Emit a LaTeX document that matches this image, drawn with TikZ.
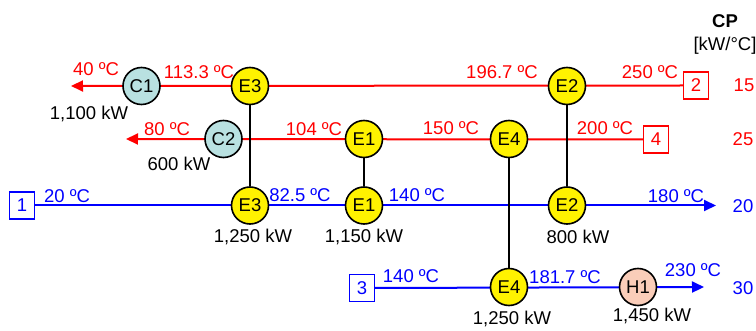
\documentclass[tikz,border=0pt]{standalone}
\usepackage{fontspec}
\setmainfont{Liberation Sans}
\usetikzlibrary{arrows.meta,backgrounds}
\definecolor{coolfill}{RGB}{185,225,225}
\definecolor{heatfill}{RGB}{250,205,185}
\tikzset{
  exch/.style={circle,draw=black,line width=1.6pt,fill=yellow,minimum size=37pt,inner sep=0pt},
  cooler/.style={exch,fill=coolfill},
  heater/.style={exch,fill=heatfill},
  hotbox/.style={draw=red,text=red,line width=1.2pt,minimum width=25pt,minimum height=27pt,inner sep=0pt},
  coldbox/.style={hotbox,draw=blue,text=blue},
  hotline/.style={red,line width=2pt,-{Triangle[length=12pt,width=11pt]}},
  coldline/.style={hotline,blue},
  match/.style={black,line width=1.8pt},
  hottemp/.style={red,inner sep=0pt},
  coldtemp/.style={blue,inner sep=0pt},
  duty/.style={black,inner sep=0pt}
}
\begin{document}
\begin{tikzpicture}[x=1pt,y=-1pt,font=\fontsize{18.5}{22}\selectfont]
    \useasboundingbox (0,0) rectangle (756,331);
    % Cabecera CP
    \node (cp) at (725,21) {\textbf{CP}};
    \node (cpunit) at (725,46) {[kW/°C]};

    % Corrientes calientes
    \node (s2) at (696,85.5) [hotbox] {2};
    \node (s4) at (656,139.5) [hotbox] {4};
    \coordinate (s2end) at (71,86);
    \coordinate (s4end) at (126,139);
    \node (c1) at (141.5,86) [cooler] {C1};
    \node (e3a) at (250,86) [exch] {E3};
    \node (e2a) at (567,86) [exch] {E2};
    \node (c2) at (223.5,139) [cooler] {C2};
    \node (e1a) at (364,139) [exch] {E1};
    \node (e4a) at (509,139) [exch] {E4};

    % Corrientes frías
    \node (s1) at (22,205.5) [coldbox] {1};
    \node (s3) at (362,288) [coldbox] {3};
    \coordinate (s1end) at (716,205.5);
    \coordinate (s3end) at (704,287);
    \node (e3b) at (250,205.5) [exch] {E3};
    \node (e1b) at (364,205.5) [exch] {E1};
    \node (e2b) at (567,205.5) [exch] {E2};
    \node (e4b) at (509,287) [exch] {E4};
    \node (h1) at (638,287) [heater] {H1};

    % Líneas detrás de los nodos
    \begin{scope}[on background layer]
        \draw[hotline] (s2.west) -- (s2end);
        \draw[hotline] (s4.west) -- (s4end);
        \draw[coldline] (s1.east) -- (s1end);
        \draw[coldline] (s3.east) -- (s3end);
    \end{scope}
    \draw[match] (e3a) -- (e3b);
    \draw[match] (e2a) -- (e2b);
    \draw[match] (e1a) -- (e1b);
    \draw[match] (e4a) -- (e4b);

    % Temperaturas
    \node (t40) at (96,69) [hottemp] {40 ºC};
    \node (t113) at (199,72) [hottemp] {113.3 ºC};
    \node (t196) at (502,72) [hottemp] {196.7 ºC};
    \node (t250) at (650,72) [hottemp] {250 ºC};
    \node (t80) at (167,129) [hottemp] {80 ºC};
    \node (t104) at (314,129) [hottemp] {104 ºC};
    \node (t150) at (451,128) [hottemp] {150 ºC};
    \node (t200) at (605,128) [hottemp] {200 ºC};
    \node (t20) at (67,196) [coldtemp] {20 ºC};
    \node (t82) at (300,195) [coldtemp] {82.5 ºC};
    \node (t140a) at (417,195) [coldtemp] {140 ºC};
    \node (t180) at (676,196) [coldtemp] {180 ºC};
    \node (t140b) at (411,276) [coldtemp] {140 ºC};
    \node (t181) at (565,277) [coldtemp] {181.7 ºC};
    \node (t230) at (693,270) [coldtemp] {230 ºC};

    % Cargas térmicas
    \node (q1) at (89,114) [duty] {1,100 kW};
    \node (q2) at (179,164) [duty] {600 kW};
    \node (q3) at (253,237) [duty] {1,250 kW};
    \node (q4) at (364,237) [duty] {1,150 kW};
    \node (q5) at (578,237) [duty] {800 kW};
    \node (q6) at (512,319) [duty] {1,250 kW};
    \node (q7) at (652,316) [duty] {1,450 kW};

    % Valores de CP
    \node (cp2) at (744,85) [hottemp] {15};
    \node (cp4) at (743,139) [hottemp] {25};
    \node (cp1) at (743,206) [coldtemp] {20};
    \node (cp3) at (743,288) [coldtemp] {30};
\end{tikzpicture}
\end{document}
